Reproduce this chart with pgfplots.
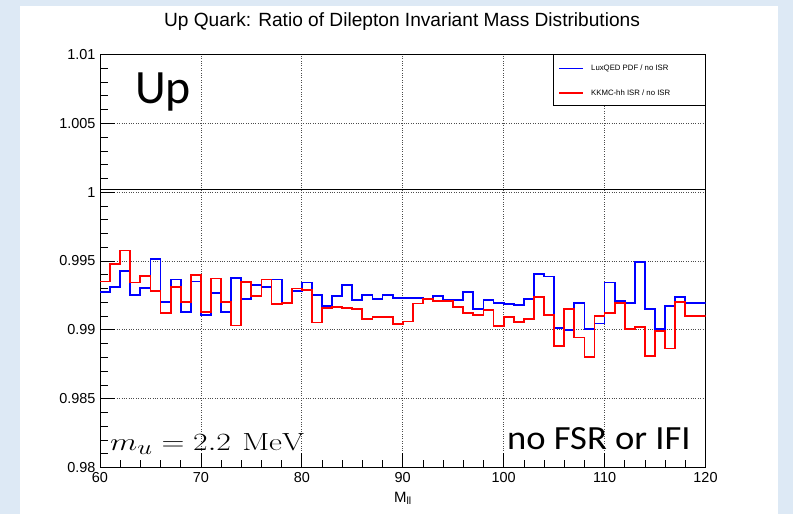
\documentclass[border=0pt]{standalone}
\usepackage[no-math]{fontspec}
\setmainfont{Liberation Sans}
\newfontfamily\calib{Carlito}
\usepackage{pgfplots}
\pgfplotsset{compat=1.18}
\usepackage{pgfplotstable}
\definecolor{bgblue}{RGB}{221,233,245}
\definecolor{rootblue}{RGB}{0,0,255}
\definecolor{rootred}{RGB}{255,0,0}

\pgfplotstableread{
mll lux kkmc
60 0.99276 0.99351
61 0.99313 0.99478
62 0.99428 0.99577
63 0.99252 0.99344
64 0.99305 0.99389
65 0.99512 0.99281
66 0.99204 0.99125
67 0.99365 0.99313
68 0.99132 0.99204
69 0.99351 0.99401
70 0.99108 0.99132
71 0.99267 0.99373
72 0.99132 0.99204
73 0.99377 0.99031
74 0.99226 0.99349
75 0.99327 0.99245
76 0.99313 0.99365
77 0.99365 0.99185
78 0.99197 0.99197
79 0.99281 0.99300
80 0.99344 0.99288
81 0.99255 0.99053
82 0.99175 0.99161
83 0.99248 0.99168
84 0.99327 0.99161
85 0.99216 0.99154
86 0.99255 0.99077
87 0.99224 0.99091
88 0.99255 0.99096
89 0.99233 0.99043
90 0.99233 0.99060
91 0.99233 0.99192
92 0.99224 0.99224
93 0.99248 0.99212
94 0.99216 0.99212
95 0.99216 0.99168
96 0.99274 0.99123
97 0.99151 0.99108
98 0.99216 0.99147
99 0.99195 0.99029
100 0.99188 0.99094
101 0.99178 0.99055
102 0.99226 0.99077
103 0.99406 0.99238
104 0.99387 0.99108
105 0.99012 0.98880
106 0.99000 0.99154
107 0.99195 0.98945
108 0.99007 0.98803
109 0.99046 0.99100
110 0.99344 0.99123
111 0.99212 0.99195
112 0.99195 0.99007
113 0.99493 0.99022
114 0.99154 0.98810
115 0.99005 0.98990
116 0.99175 0.98865
117 0.99240 0.99204
118 0.99195 0.99099
119 0.99195 0.99099
120 0.99195 0.99099
}\histdata

\begin{document}
\begin{tikzpicture}
\fill[bgblue] (0bp,0bp) rectangle (793bp,-514bp);
\fill[white] (20bp,-6bp) rectangle (778bp,-514bp);
\begin{axis}[
  at={(100bp,-467.5bp)}, anchor=south west,
  scale only axis, width=605.5bp, height=413bp,
  xmin=60, xmax=120, ymin=0.98, ymax=1.01,
  xtick={60,70,...,120},
  ytick={0.98,0.985,0.99,0.995,1,1.005,1.01},
  yticklabels={0.98,0.985,0.99,0.995,1,1.005,1.01},
  minor x tick num=4, minor y tick num=4,
  tick align=inside, xtick pos=bottom, ytick pos=left,
  major tick length=15bp, minor tick length=8bp,
  grid=major, major grid style={dotted, black!70, line width=0.7bp},
  axis line style={line width=0.9bp},
  tick style={black, line width=0.7bp},
  ticklabel style={font=\fontsize{14.5}{17}\selectfont},
  /pgf/number format/assume math mode=true,
  xticklabel style={yshift=-1bp},
  yticklabel style={xshift=-1bp},
]
\addplot[draw=black, line width=1.2bp, forget plot] coordinates {(60,1.0002) (120,1.0002)};
\addplot[const plot, draw=rootblue, mark=none, line width=1.8bp, forget plot] table[x=mll, y=lux] {\histdata};
\addplot[const plot, draw=rootred, mark=none, line width=1.8bp, forget plot] table[x=mll, y=kkmc] {\histdata};
\end{axis}
% legend (box, samples, then text)
\filldraw[fill=white, draw=black, line width=0.6bp] (553bp,-54.5bp) rectangle (705.5bp,-105bp);
\draw[rootblue, line width=1.7bp] (559bp,-68.5bp) -- (583bp,-68.5bp);
\draw[rootred, line width=1.7bp] (559bp,-93bp) -- (583bp,-93bp);
\node[anchor=west, inner sep=0pt, font=\fontsize{7.8}{9}\selectfont] at (591bp,-68.5bp) {LuxQED PDF / no ISR};
\node[anchor=west, inner sep=0pt, font=\fontsize{7.8}{9}\selectfont] at (591bp,-93bp) {KKMC-hh ISR / no ISR};
\node[anchor=base, font=\fontsize{19.2}{22}\selectfont] at (402bp,-26.5bp) {Up Quark: Ratio of Dilepton Invariant Mass Distributions};
\node[anchor=base, font=\fontsize{15}{18}\selectfont] at (403bp,-502bp) {M\textsubscript{ll}};
\node[anchor=base west, inner sep=0pt, font=\calib\fontsize{48}{56}\selectfont] at (135bp,-103bp) {Up};
\node[anchor=base west, inner sep=0pt, font=\fontsize{32}{38}\selectfont] at (110bp,-450.5bp) {\scalebox{1.28}[1]{$m_u = 2.2\ \mathrm{MeV}$}};
\node[anchor=base west, inner sep=0pt, font=\calib\fontsize{34}{40}\selectfont] at (507bp,-449.5bp) {\scalebox{1.08}[1]{no FSR or IFI}};
\pgfresetboundingbox
\useasboundingbox (0bp,0bp) rectangle (793bp,-514bp);
\end{tikzpicture}
\end{document}
